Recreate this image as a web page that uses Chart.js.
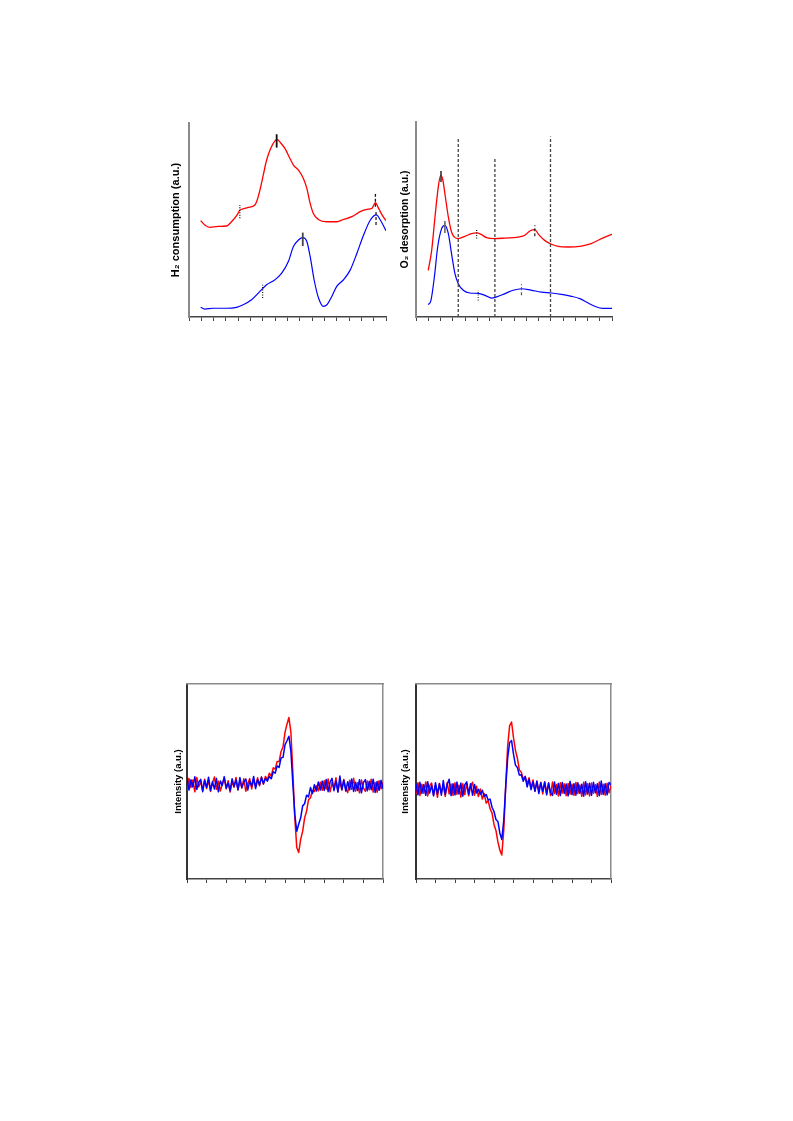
<!DOCTYPE html>
<html>
<head>
<meta charset="utf-8">
<script src="https://cdn.jsdelivr.net/npm/chart.js@4.4.1/dist/chart.umd.min.js"></script>
<style>
  body { margin: 0; background: #fff; width: 793px; height: 1121px; position: relative; overflow: hidden; }
  canvas { position: absolute; }
</style>
</head>
<body>
<canvas id="tpr"></canvas>
<canvas id="tpd"></canvas>
<canvas id="eprA"></canvas>
<canvas id="eprB"></canvas>
<script>
// H2 TPR (top left), x in tick units 0..16, y in a.u. 0..100
const tprRedX = [0.95,1.28,1.68,2.36,3.04,3.45,3.91,4.13,4.4,4.81,5.35,5.54,5.76,6.03,6.3,6.63,6.98,7.17,7.45,7.8,8.2,8.48,8.89,9.29,9.57,9.84,10.1,10.5,11.2,12.0,12.55,13.23,13.9,14.46,14.86,15.14,15.4,15.68,16.0];
const tprRedY = [49.7,47.4,46.2,46.7,46.9,49.1,52.6,55.1,55.7,56.5,57.7,60.3,65.4,73.1,80.8,86.8,90.8,91.4,89.7,86.8,81.7,78.3,75.7,71.4,66.3,58.6,53.4,50.3,49.1,49.1,50.3,51.7,54.3,55.5,56.0,58.9,56.0,52.6,49.7];
const tprBlueX = [0.95,1.28,1.96,3.04,3.86,4.4,5.08,5.76,6.3,6.98,7.53,8.07,8.48,8.89,9.24,9.57,9.84,10.16,10.52,10.92,11.2,11.6,12.0,12.55,13.1,13.64,14.18,14.73,15.22,15.54,16.0];
const tprBlueY = [5.0,4.1,4.5,4.5,5.0,6.3,8.9,13.2,16.6,19.2,22.6,28.6,36.3,39.7,40.9,38.9,31.2,19.2,9.8,5.5,6.3,10.6,15.8,19.2,24.3,32.9,42.3,50.0,52.6,50.0,44.5];
// peak markers: position, lower and upper end
const tprMarkX = [4.13, 7.12, 15.14, 5.98, 9.24, 15.19];
const tprMarkLo = [50.9, 87.3, 56.8, 9.8, 36.6, 47.4];
const tprMarkHi = [57.7, 94.2, 63.4, 16.6, 43.5, 55.1];

// O2 TPD (top right)
const tpdRedX = [1.0,1.28,1.55,1.82,2.01,2.17,2.36,2.64,2.9,3.18,3.45,4.0,4.54,4.95,5.3,5.76,6.44,7.26,8.34,8.89,9.29,9.7,10.0,10.5,11.06,11.6,12.4,13.5,14.3,15.14,16.0];
const tpdRedY = [23.9,34.2,51.3,66.7,72.6,70.9,63.2,51.3,43.6,40.7,40.2,41.4,42.7,43.1,42.4,40.7,40.2,40.5,41.0,41.9,44.1,44.8,42.4,39.3,37.3,36.2,35.9,36.4,37.6,40.2,42.4];
const tpdBlueX = [1.0,1.22,1.5,1.77,2.09,2.36,2.64,2.9,3.18,3.45,3.86,4.4,5.08,5.63,6.17,6.58,7.26,7.93,8.61,9.43,10.24,11.06,11.88,12.7,13.37,13.9,14.6,15.27,16.0];
const tpdBlueY = [6.3,8.5,20.5,35.9,45.3,47.0,42.7,32.5,22.2,17.1,13.7,12.3,12.1,11.1,9.7,10.3,12.0,13.7,14.5,13.7,12.8,12.3,11.6,10.6,9.4,7.7,5.5,4.4,4.4];
const tpdMarkX = [2.04, 4.95, 9.7, 2.36, 5.08, 8.61];
const tpdMarkLo = [69.2, 40.2, 41.4, 43.1, 8.5, 11.1];
const tpdMarkHi = [74.9, 45.3, 47.0, 49.2, 13.7, 16.8];
const tpdGuideX = [3.45, 6.44, 10.98];
const tpdGuideTop = [92.3, 82.1, 92.6];

// EPR spectra, one value per field step (0..100)
const eprARed = [45.2,51.6,46.9,50.8,44.7,52.0,47.3,49.9,45.5,51.2,46.4,50.6,44.9,49.3,52.3,46.0,50.1,45.1,48.7,51.8,46.3,50.4,44.6,49.8,47.0,52.1,45.7,50.0,46.6,51.4,45.0,48.9,51.5,46.2,50.7,47.4,51.9,47.8,52.4,48.6,
  52.6,50.9,54.2,52.8,57.0,56.4,60.3,60.2,65.4,67.8,75.2,79.4,82.8,75.3,54.8,31.6,16.2,13.6,20.3,24.4,31.2,34.8,40.6,41.7,45.3,44.9,47.8,45.2,49.6,45.5,
  50.4,46.1,51.3,44.7,49.5,46.3,51.9,44.8,50.2,45.6,51.0,46.5,44.3,50.6,46.0,51.7,45.1,49.4,44.2,50.8,46.7,44.9,50.3,45.8,51.2,44.6,49.5,44.5,50.4,46.2,49.8];
const eprABlue = [51.8,45.6,50.9,47.2,52.4,45.9,49.6,51.1,44.8,50.5,47.0,52.2,45.4,49.9,46.1,51.6,44.7,50.3,48.0,52.5,46.6,49.2,45.3,51.4,47.5,50.8,45.8,52.0,46.9,49.7,51.3,45.6,50.1,47.7,52.6,46.4,50.9,48.3,52.1,49.0,
  51.5,50.2,52.6,51.4,55.0,54.3,58.0,57.2,62.1,62.4,68.8,70.9,73.2,65.5,49.0,33.0,24.5,28.2,31.4,37.5,38.6,43.0,42.1,46.9,43.8,48.4,45.1,49.8,45.6,50.2,
  45.4,51.0,44.8,49.7,51.6,45.3,50.2,44.6,52.8,45.9,50.7,45.1,49.9,45.7,51.3,44.9,49.6,45.4,50.9,44.2,49.4,51.0,45.2,50.1,45.8,51.2,44.4,50.0,45.5,50.6,46.3];
const eprBRed = [43.5,49.4,42.8,48.6,44.0,49.8,42.6,47.9,49.2,43.1,48.0,41.9,49.0,44.2,47.8,42.4,49.5,43.6,48.7,42.9,49.3,43.4,48.1,42.0,48.9,43.3,49.1,42.7,47.7,49.6,43.0,47.6,
  42.3,46.2,41.0,43.8,38.9,40.2,36.0,33.8,28.0,24.9,19.0,14.8,12.3,25.0,48.0,68.0,78.5,80.5,72.5,66.0,61.8,55.9,54.8,51.2,52.6,48.7,51.9,46.4,50.8,44.9,
  50.2,45.1,49.6,43.6,49.9,44.0,49.3,42.8,49.7,43.9,48.5,42.6,49.4,44.1,48.8,42.7,49.0,43.5,48.6,42.9,49.5,43.8,48.2,42.4,49.6,43.2,48.9,42.6,49.2,44.0,48.4,42.3,49.7,43.4,48.6,43.0,49.1,44.2,48.0];
const eprBBlue = [48.9,43.2,49.6,43.9,48.4,42.9,49.9,44.1,48.0,42.6,49.4,43.7,48.8,43.0,50.5,43.4,48.6,51.2,42.8,48.9,43.1,49.7,43.6,49.2,42.5,48.3,49.8,43.5,48.9,43.0,48.5,44.1,
  46.0,43.4,45.5,42.3,43.3,40.5,41.0,36.8,34.6,30.5,29.5,23.6,20.3,30.0,47.0,62.0,70.0,71.0,64.0,58.4,57.2,53.3,53.5,50.1,52.6,47.2,51.0,45.8,49.9,45.1,
  50.1,43.8,49.4,44.9,49.6,43.2,49.2,44.3,42.9,49.8,43.5,49.0,42.8,49.5,43.9,48.7,42.6,50.1,43.3,48.9,43.0,49.4,44.0,48.6,42.5,49.9,43.6,49.1,42.9,49.6,44.2,48.8,42.7,50.2,43.4,48.9,43.2,49.5,48.3];

const FONT = "'Liberation Sans', Arial, 'DejaVu Sans', sans-serif";
const RED = '#ff0000';
const BLUE = '#0000ff';

const pairs = (xs, ys) => xs.map((x, i) => ({ x: x, y: ys[i] }));
const indexed = ys => ys.map((y, i) => ({ x: i, y: y }));

function curve(points, color, width, smooth) {
  return {
    data: points, borderColor: color, borderWidth: width, pointRadius: 0,
    tension: smooth ? 0.4 : 0, cubicInterpolationMode: smooth ? 'monotone' : 'default',
    borderJoinStyle: 'round', fill: false
  };
}

function tick(x, lo, hi, color, dash, width) {
  return {
    data: [{ x: x, y: lo }, { x: x, y: hi }], borderColor: color, borderWidth: width,
    borderDash: dash, pointRadius: 0, fill: false
  };
}

const DOT = [1, 1.5];
const DASH = [3, 2];
const SOLID = [];

function panel(id, area, title, fontSize, gap, xMax, xStep, boxed, datasets) {
  const c = document.getElementById(id);
  const titleW = fontSize * 1.2 + gap;
  const left = Math.round(area.l - titleW - 3);
  const padL = area.l - left - titleW;
  const top = area.t - 4;
  c.width = area.r - left + 4;
  c.height = area.b - top + 4 + 2;
  c.style.left = left + 'px';
  c.style.top = top + 'px';

  const scales = {
    x: {
      type: 'linear', position: 'bottom', min: 0, max: xMax,
      ticks: { display: false, stepSize: xStep, autoSkip: false, maxTicksLimit: 50 },
      grid: { display: true, drawOnChartArea: false, drawTicks: true, tickLength: 4, color: '#444', lineWidth: 1 },
      border: { display: true, color: '#444', width: 1.5 }
    },
    y: {
      type: 'linear', position: 'left', min: 0, max: 100,
      ticks: { display: false },
      grid: { display: false, drawTicks: false },
      border: { display: true, color: boxed ? '#333' : '#8a8a8a', width: 2 },
      title: {
        display: true, text: title, color: '#000',
        font: { family: FONT, size: fontSize, weight: 'bold' },
        padding: { top: 0, bottom: gap }
      }
    }
  };
  if (boxed) {
    scales.x2 = {
      type: 'linear', axis: 'x', position: 'top', min: 0, max: xMax,
      ticks: { display: false }, grid: { display: false, drawTicks: false },
      border: { display: true, color: '#8a8a8a', width: 1.5 }
    };
    scales.y2 = {
      type: 'linear', axis: 'y', position: 'right', min: 0, max: 100,
      ticks: { display: false }, grid: { display: false, drawTicks: false },
      border: { display: true, color: '#8a8a8a', width: 1.5 }
    };
  }

  new Chart(c, {
    type: 'line',
    data: { datasets: datasets },
    options: {
      responsive: false,
      animation: false,
      events: [],
      layout: { padding: { left: padL, top: 4, right: 4, bottom: 2 } },
      plugins: { legend: { display: false }, tooltip: { enabled: false } },
      scales: scales
    }
  });
}

// dataset 0 is painted last (on top), so marks go first in each list

// top left
const tprStyles = [DOT, SOLID, DASH, DOT, SOLID, DASH];
const tprColors = ['#111', '#111', '#111', '#222', '#444', '#222'];
const tprSets = [];
tprMarkX.forEach((x, i) => {
  tprSets.push(tick(x, tprMarkLo[i], tprMarkHi[i], tprColors[i], tprStyles[i], tprStyles[i] === SOLID ? 1.8 : 1.3));
});
tprSets.push(curve(pairs(tprBlueX, tprBlueY), BLUE, 1.2, true));
tprSets.push(curve(pairs(tprRedX, tprRedY), RED, 1.3, true));
panel('tpr', { l: 189, r: 386, t: 123, b: 317 }, 'H\u2082 consumption (a.u.)', 11, 6.7, 16, 1, false, tprSets);

// top right
const tpdStyles = [SOLID, DOT, DASH, SOLID, DOT, DASH];
const tpdColors = ['#333', '#111', '#222', '#666', '#333', '#555'];
const tpdSets = [];
tpdMarkX.forEach((x, i) => {
  tpdSets.push(tick(x, tpdMarkLo[i], tpdMarkHi[i], tpdColors[i], tpdStyles[i], tpdStyles[i] === SOLID ? 1.6 : 1.2));
});
tpdGuideX.forEach((x, i) => {
  tpdSets.push(tick(x, 0, tpdGuideTop[i], '#444', [3, 2], 1.3));
});
tpdSets.push(curve(pairs(tpdBlueX, tpdBlueY), BLUE, 1.2, true));
tpdSets.push(curve(pairs(tpdRedX, tpdRedY), RED, 1.3, true));
panel('tpd', { l: 416, r: 612, t: 122, b: 317 }, 'O\u2082 desorption (a.u.)', 10.5, 4.7, 16, 1, false, tpdSets);

// bottom EPR panels (blue painted over red)
panel('eprA', { l: 187, r: 383, t: 684, b: 879 }, 'Intensity (a.u.)', 9.5, 3.3, 100, 10, true, [
  curve(indexed(eprABlue), BLUE, 1.5, false),
  curve(indexed(eprARed), RED, 1.5, false)
]);
panel('eprB', { l: 416, r: 611, t: 684, b: 879 }, 'Intensity (a.u.)', 9.5, 5.3, 100, 10, true, [
  curve(indexed(eprBBlue), BLUE, 1.5, false),
  curve(indexed(eprBRed), RED, 1.5, false)
]);
</script>
</body>
</html>
